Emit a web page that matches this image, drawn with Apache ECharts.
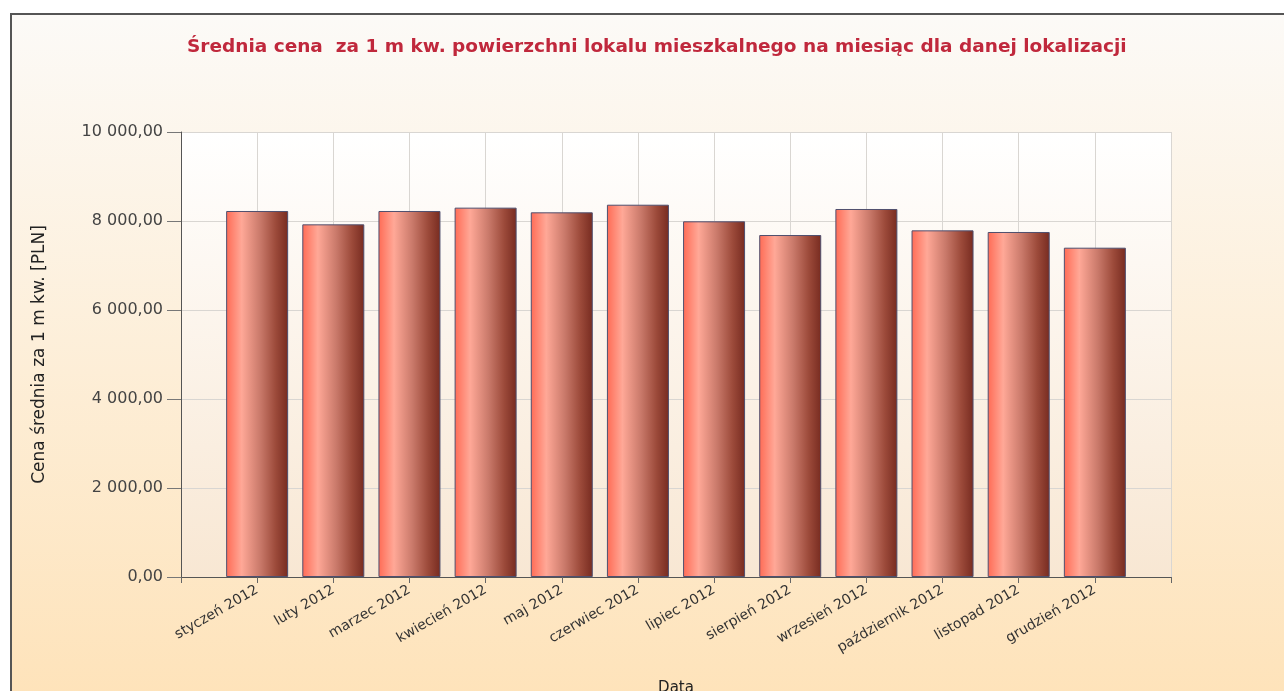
<!DOCTYPE html>
<html>
<head>
<meta charset="utf-8">
<script src="https://cdn.jsdelivr.net/npm/echarts@6/dist/echarts.min.js"></script>
<style>
  html, body { margin: 0; padding: 0; background: #fff; overflow: hidden; }
  #wrap { position: relative; width: 1284px; height: 691px; overflow: hidden; }
  #frame {
    position: absolute; left: 10px; top: 13px; width: 1400px; height: 800px;
    border-top: 2px solid #555; border-left: 2px solid #555;
    background: linear-gradient(to bottom, #fcfaf7 0px, #fee3ba 680px);
  }
  #chart { position: absolute; left: 0; top: 0; width: 1284px; height: 691px; }
</style>
</head>
<body>
<div id="wrap">
  <div id="frame"></div>
  <div id="chart"></div>
</div>
<script>
const months = ['styczeń 2012', 'luty 2012', 'marzec 2012', 'kwiecień 2012', 'maj 2012', 'czerwiec 2012',
    'lipiec 2012', 'sierpień 2012', 'wrzesień 2012', 'październik 2012', 'listopad 2012', 'grudzień 2012'];
const prices = [8225, 7925, 8225, 8300, 8195, 8366, 7993, 7685, 8270, 7790, 7753, 7400];
const yTicks = [0, 2000, 4000, 6000, 8000, 10000];

// puste miejsca na początku i końcu osi, słupki stoją na kreskach
const axisCats = [''].concat(months, ['']);
const barData = [null].concat(prices, [null]);

const chart = echarts.init(document.querySelector('#chart'), null, {renderer: 'canvas'});

function plFormat(v){
    const parts = v.toFixed(2).split('.');
    return parts[0].replace(/\B(?=(\d{3})+(?!\d))/g, ' ') + ',' + parts[1];
}

const barGradient = new echarts.graphic.LinearGradient(0, 0, 1, 0, [
    {offset: 0, color: '#ff6b55'},
    {offset: 0.25, color: '#ffa897'},
    {offset: 0.55, color: '#c9796a'},
    {offset: 0.8, color: '#9c4a3a'},
    {offset: 1, color: '#772b20'}
]);

const option = {
    animation: false,
    backgroundColor: 'transparent',
    textStyle: { fontFamily: 'DejaVu Sans' },
    title: {
        text: 'Średnia cena  za 1 m kw. powierzchni lokalu mieszkalnego na miesiąc dla danej lokalizacji',
        left: 182,
        top: 33,
        textStyle: { color: '#c0283c', fontSize: 18.5, fontWeight: 'bold', fontFamily: 'DejaVu Sans' }
    },
    grid: {
        left: 181,
        right: 113,
        top: 132,
        bottom: 114,
        outerBoundsMode: 'none',
        containLabel: false,
        show: true,
        borderWidth: 0,
        backgroundColor: new echarts.graphic.LinearGradient(0, 0, 0, 1, [
            {offset: 0, color: '#ffffff'},
            {offset: 1, color: '#f8e7d3'}
        ])
    },
    xAxis: {
        type: 'category',
        data: axisCats,
        boundaryGap: false,
        name: 'Data',
        nameLocation: 'middle',
        nameGap: 104,
        nameTextStyle: { color: '#222', fontSize: 15 },
        axisLine: { lineStyle: { color: '#555', width: 1 } },
        axisTick: { length: 6, lineStyle: { color: '#666' } },
        axisLabel: { rotate: 30, color: '#333', fontSize: 14, margin: 12, interval: 0 },
        splitLine: { show: true, lineStyle: { color: '#d9d6d2' } }
    },
    yAxis: {
        type: 'value',
        min: yTicks[0],
        max: yTicks[yTicks.length - 1],
        interval: yTicks[1] - yTicks[0],
        name: 'Cena średnia za 1 m kw. [PLN]',
        nameLocation: 'middle',
        nameGap: 133,
        nameTextStyle: { color: '#222', fontSize: 17 },
        axisLine: { show: true, lineStyle: { color: '#555' } },
        axisTick: { show: true, length: 14, lineStyle: { color: '#777' } },
        axisLabel: { color: '#444', fontSize: 16, margin: 18, formatter: plFormat },
        splitLine: { show: true, lineStyle: { color: '#d9d6d2' } }
    },
    series: [
        {
            type: 'bar',
            data: barData,
            barWidth: 62,
            itemStyle: { color: barGradient, borderColor: '#4f4f6e', borderWidth: 1 }
        }
    ]
};

chart.setOption(option);
window.addEventListener('resize', chart.resize);
</script>
</body>
</html>
